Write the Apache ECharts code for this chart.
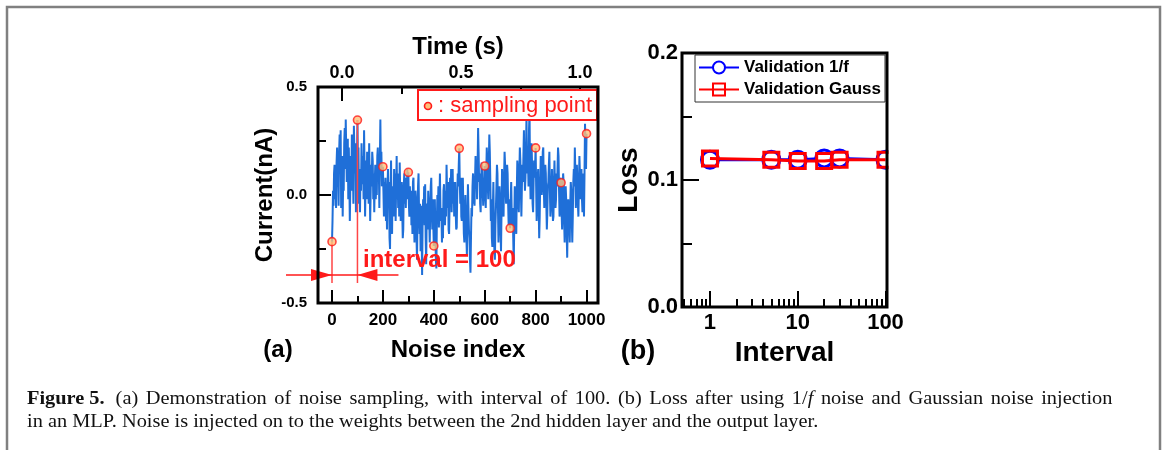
<!DOCTYPE html>
<html>
<head>
<meta charset="utf-8">
<script src="https://cdn.jsdelivr.net/npm/echarts@6/dist/echarts.min.js"></script>
<style>html,body{margin:0;padding:0;background:#fff;}#c{width:1165px;height:450px;}</style>
</head>
<body>
<div id="c"></div>
<script>
// ---------- Panel (a): noise trace, one value every 2 indices (0..1000) ----------
const noiseStep = 2;
const noiseValues = [
  // 0 - 98
  -0.216, -0.12, 0.02, -0.05, 0.1, 0.14, -0.02, 0.08, -0.06, 0.15, 0.22, 0.04, 0.12, -0.05, 0.2, 0.28, 0.1, 0.3, -0.06, 0.05,
  0.18, -0.1, 0.08, 0.02, 0.24, 0.31, 0.12, 0.35, 0.2, 0.06, 0.1, 0.26, -0.02, 0.22, 0.08, -0.12, 0.04, 0.18, 0.02, 0.28,
  0.06, 0.16, -0.04, 0.32, 0.2, 0.1, 0.24, -0.08, 0.06, 0.15,
  // 100 - 198
  0.347, 0.14, 0.22, -0.04, 0.08, -0.08, 0.12, 0.02, 0.24, 0.1, 0.05, 0.18, -0.02, 0.3, 0.12, -0.1, 0.06, 0.16, -0.02, 0.2,
  0.02, 0.12, -0.04, 0.24, 0.08, -0.12, 0.02, 0.14, 0.04, 0.2, 0.16, -0.02, 0.1, -0.08, 0.06, 0.14, -0.02, 0.08, 0.0, 0.18,
  0.22, 0.06, 0.12, -0.06, 0.16, 0.35, 0.12, 0.2, 0.04, 0.1,
  // 200 - 298
  0.131, 0.02, -0.1, 0.06, -0.04, 0.08, -0.12, 0.02, -0.16, 0.04, 0.12, -0.04, 0.06, -0.2, -0.25, 0.02, 0.16, -0.06, -0.18, 0.04,
  0.02, -0.1, 0.12, 0.0, 0.1, -0.12, 0.04, 0.18, -0.02, 0.08, -0.06, 0.1, -0.1, 0.15, 0.02, -0.12, 0.02, 0.06, -0.08, -0.2,
  -0.16, 0.04, 0.1, -0.04, 0.06, -0.06, 0.08, -0.02, 0.12, 0.0,
  // 300 - 398
  0.105, -0.04, -0.1, 0.04, -0.06, 0.02, -0.14, -0.04, -0.18, 0.06, 0.08, -0.1, -0.22, -0.06, 0.02, -0.02, -0.2, -0.3, -0.1, 0.04,
  0.1, -0.08, -0.18, -0.04, -0.26, -0.05, -0.16, -0.37, -0.12, -0.02, -0.1, 0.04, -0.14, 0.05, -0.2, -0.32, -0.1, -0.04, -0.16, 0.02,
  0.02, -0.12, -0.22, -0.06, 0.04, 0.08, -0.08, -0.16, -0.02, -0.14,
  // 400 - 498
  -0.236, -0.1, -0.02, -0.16, -0.3, -0.34, -0.12, 0.0, -0.08, 0.04, -0.15, -0.04, 0.1, -0.06, -0.12, -0.1, -0.22, -0.06, -0.2, 0.02,
  0.05, -0.08, -0.14, 0.02, -0.1, 0.14, 0.02, -0.06, 0.06, -0.16, -0.18, -0.04, 0.08, -0.02, 0.12, -0.08, 0.04, 0.12, -0.04, 0.06,
  -0.1, 0.02, 0.06, -0.08, -0.16, -0.15, 0.0, 0.1, 0.04, 0.14,
  // 500 - 598
  0.216, 0.06, -0.04, 0.08, -0.1, -0.12, 0.02, 0.08, -0.06, -0.18, -0.22, -0.08, 0.0, -0.12, -0.2, -0.28, -0.1, 0.05, -0.06, -0.16,
  -0.2, -0.3, -0.36, -0.2, -0.06, -0.1, 0.04, 0.1, -0.04, 0.02, -0.05, 0.08, 0.18, 0.04, 0.1, -0.02, 0.14, 0.31, 0.2, 0.06,
  0.1, -0.04, -0.08, 0.06, 0.15, 0.13, 0.02, -0.05, 0.08, 0.02,
  // 600 - 698
  0.134, -0.02, -0.06, 0.1, 0.22, 0.16, 0.04, -0.02, 0.14, 0.28, 0.2, 0.06, -0.12, -0.02, -0.2, -0.24, -0.06, 0.06, -0.12, -0.26,
  -0.3, -0.14, -0.06, 0.04, 0.14, 0.1, -0.06, -0.22, -0.1, 0.04, -0.02, -0.16, -0.26, -0.08, 0.12, 0.06, -0.06, -0.1, 0.08, 0.2,
  0.14, 0.02, -0.04, 0.08, 0.14, 0.1, -0.04, -0.14, -0.02, -0.12,
  // 700 - 798
  -0.154, -0.02, 0.06, -0.08, -0.14, -0.06, -0.2, -0.32, -0.14, 0.04, -0.02, -0.12, -0.18, 0.02, 0.16, 0.12, -0.04, -0.08, 0.1, 0.22,
  0.16, 0.02, -0.1, 0.04, 0.14, 0.06, 0.18, 0.3, 0.12, 0.02, 0.08, 0.2, 0.36, 0.18, 0.1, 0.16, 0.04, 0.3, 0.39, 0.12,
  -0.02, 0.1, 0.24, 0.14, -0.04, -0.08, 0.06, 0.16, 0.08, 0.14,
  // 800 - 898
  0.218, 0.04, -0.12, -0.04, 0.08, 0.12, -0.06, -0.2, -0.1, 0.06, 0.18, 0.1, 0.0, 0.06, 0.2, 0.22, 0.04, -0.06, 0.02, 0.14,
  0.1, -0.04, -0.16, -0.08, 0.04, 0.06, 0.14, 0.2, 0.02, -0.1, -0.06, 0.04, 0.12, 0.0, -0.12, -0.1, 0.06, 0.16, 0.04, -0.06,
  -0.02, 0.1, 0.04, 0.12, 0.22, 0.18, 0.02, -0.1, -0.04, 0.08,
  // 900 - 998
  0.057, -0.08, -0.16, 0.0, 0.1, 0.06, -0.12, -0.22, -0.08, 0.04, -0.02, -0.18, -0.29, -0.12, -0.02, -0.06, -0.14, -0.22, -0.04, 0.06,
  0.02, -0.12, -0.22, -0.1, 0.06, 0.12, 0.04, 0.22, 0.1, -0.06, 0.02, 0.14, 0.06, -0.04, -0.1, 0.04, 0.18, 0.1, -0.02, 0.06,
  0.12, -0.02, -0.08, 0.1, 0.02, -0.1, 0.1, 0.33, 0.22, 0.12,
  // 1000
  0.284
];
const sampleIndex = [0, 100, 200, 300, 400, 500, 600, 700, 800, 900, 1000];
const sampleValues = [-0.216, 0.347, 0.131, 0.105, -0.236, 0.216, 0.134, -0.154, 0.218, 0.057, 0.284];
const indexTicks = [0, 200, 400, 600, 800, 1000];
const indexMinorTicks = [100, 300, 500, 700, 900];
const timeTicks = [0, 0.5, 1.0];
const timeMinorTicks = [0.25, 0.75];

// ---------- Panel (b): loss vs interval ----------
const intervals = [1, 5, 10, 20, 30, 100];
const loss1f = [0.116, 0.116, 0.116, 0.117, 0.117, 0.116];
const lossGauss = [0.117, 0.116, 0.115, 0.115, 0.116, 0.116];
const intervalTicks = [1, 10, 100];
const intervalMinorTicks = [0.5, 0.6, 0.7, 0.8, 0.9, 2, 3, 4, 5, 6, 7, 8, 9, 20, 30, 40, 50, 60, 70, 80, 90];

const SANS = 'Liberation Sans, Arial, sans-serif';
const SERIF = 'Liberation Serif, Times New Roman, serif';

const noiseData = noiseValues.map((v, i) => [i * noiseStep, v]);
const sampleData = sampleIndex.map((x, i) => [x, sampleValues[i]]);
const markerBottom = -0.407;

const gA = {left: 318, top: 87, width: 280, height: 216};
const gB = {left: 682, top: 53, width: 205, height: 254};

function tickAxis(extra) {
  return Object.assign({
    type: 'value',
    axisLine: {show: false, onZero: false},
    splitLine: {show: false},
    axisTick: {show: true, inside: true, length: 13, lineStyle: {color: '#000', width: 2}},
    axisLabel: {show: false}
  }, extra);
}
const lbl = (size, margin, extra) => Object.assign({show: true, color: '#000', fontFamily: SANS, fontWeight: 'bold', fontSize: size, margin: margin}, extra || {});

const chart = echarts.init(document.getElementById('c'), null, {renderer: 'canvas'});
chart.setOption({
  animation: false,
  backgroundColor: '#fff',
  grid: [
    Object.assign({}, gA),
    Object.assign({}, gB)
  ],
  legend: {
    data: ['Validation 1/f', 'Validation Gauss'],
    orient: 'vertical',
    left: 695, top: 55,
    itemWidth: 40, itemHeight: 15, itemGap: 5,
    padding: [4, 4, 4, 3],
    borderColor: '#333', borderWidth: 1, backgroundColor: '#fff',
    textStyle: {fontFamily: SANS, fontWeight: 'bold', fontSize: 17, color: '#000'}
  },
  xAxis: [
    tickAxis({gridIndex: 0, position: 'bottom', min: -55, max: 1045,
      axisTick: {show: true, inside: true, length: 13, customValues: indexTicks, lineStyle: {color: '#000', width: 2}},
      axisLabel: lbl(17, 9, {customValues: indexTicks, formatter: v => String(v)}),
      name: 'Noise index', nameLocation: 'middle', nameGap: 35,
      nameTextStyle: {fontFamily: SANS, fontWeight: 'bold', fontSize: 24, color: '#000'}}),
    tickAxis({gridIndex: 0, position: 'bottom', min: -55, max: 1045,
      axisTick: {show: true, inside: true, length: 7, customValues: indexMinorTicks, lineStyle: {color: '#000', width: 2}}}),
    tickAxis({gridIndex: 0, position: 'top', min: -0.101, max: 1.076,
      axisTick: {show: true, inside: true, length: 14, customValues: timeTicks, lineStyle: {color: '#000', width: 2}},
      axisLabel: lbl(18, 5, {customValues: timeTicks, formatter: v => v.toFixed(1)}),
      name: 'Time (s)', nameLocation: 'middle', nameGap: 28,
      nameTextStyle: {fontFamily: SANS, fontWeight: 'bold', fontSize: 24, color: '#000'}}),
    tickAxis({gridIndex: 0, position: 'top', min: -0.101, max: 1.076,
      axisTick: {show: true, inside: true, length: 7, customValues: timeMinorTicks, lineStyle: {color: '#000', width: 2}}}),
    tickAxis({gridIndex: 1, type: 'log', logBase: 10, position: 'bottom', min: 0.48, max: 104,
      axisTick: {show: true, inside: true, length: 16, customValues: intervalTicks, lineStyle: {color: '#000', width: 2}},
      axisLabel: lbl(22, 5, {customValues: intervalTicks, formatter: v => String(Math.round(v))}),
      name: 'Interval', nameLocation: 'middle', nameGap: 31,
      nameTextStyle: {fontFamily: SANS, fontWeight: 'bold', fontSize: 28, color: '#000'}}),
    tickAxis({gridIndex: 1, type: 'log', logBase: 10, position: 'bottom', min: 0.48, max: 104,
      axisTick: {show: true, inside: true, length: 8, customValues: intervalMinorTicks, lineStyle: {color: '#000', width: 2}}})
  ],
  yAxis: [
    tickAxis({gridIndex: 0, min: -0.5, max: 0.5, interval: 0.5,
      minorTick: {show: true, splitNumber: 2, length: 8, lineStyle: {color: '#000', width: 2}},
      axisLabel: lbl(15, 11, {formatter: v => v.toFixed(1)}),
      name: 'Current(nA)', nameLocation: 'middle', nameGap: 35, nameRotate: 90,
      nameTextStyle: {fontFamily: SANS, fontWeight: 'bold', fontSize: 24, color: '#000'}}),
    tickAxis({gridIndex: 1, min: 0, max: 0.2, interval: 0.1,
      axisTick: {show: true, inside: true, length: 17, lineStyle: {color: '#000', width: 2}},
      minorTick: {show: true, splitNumber: 2, length: 10, lineStyle: {color: '#000', width: 2}},
      axisLabel: lbl(22, 4, {formatter: v => v.toFixed(1)}),
      name: 'Loss', nameLocation: 'middle', nameGap: 36, nameRotate: 90,
      nameTextStyle: {fontFamily: SANS, fontWeight: 'bold', fontSize: 28, color: '#000'}})
  ],
  series: [
    {type: 'line', name: 'noise', xAxisIndex: 0, yAxisIndex: 0, data: noiseData, showSymbol: false,
      lineStyle: {color: '#1f6fd8', width: 2}, z: 2},
    {type: 'line', name: 'm0', xAxisIndex: 0, yAxisIndex: 0, showSymbol: false,
      data: [[sampleIndex[0], sampleValues[0]], [sampleIndex[0], markerBottom]],
      lineStyle: {color: '#ff4545', width: 1.5}, z: 3},
    {type: 'line', name: 'm1', xAxisIndex: 0, yAxisIndex: 0, showSymbol: false,
      data: [[sampleIndex[1], sampleValues[1]], [sampleIndex[1], markerBottom]],
      lineStyle: {color: '#ff4545', width: 1.5}, z: 3},
    {type: 'scatter', name: 'sampling point', xAxisIndex: 0, yAxisIndex: 0, data: sampleData,
      symbol: 'circle', symbolSize: 8,
      itemStyle: {color: '#ffc07a', borderColor: '#ff1a1a', borderWidth: 1.6}, z: 4},
    {type: 'line', name: 'Validation 1/f', xAxisIndex: 4, yAxisIndex: 1,
      data: intervals.map((x, i) => [x, loss1f[i]]),
      symbol: 'circle', symbolSize: 17, showSymbol: true,
      lineStyle: {color: '#0000ff', width: 3},
      itemStyle: {color: '#ffffff', borderColor: '#0000ff', borderWidth: 3}, z: 3},
    {type: 'line', name: 'Validation Gauss', xAxisIndex: 4, yAxisIndex: 1,
      data: intervals.map((x, i) => [x, lossGauss[i]]),
      symbol: 'rect', symbolSize: 15, showSymbol: true,
      lineStyle: {color: '#ff0000', width: 3},
      itemStyle: {color: 'rgba(255,255,255,0)', borderColor: '#ff0000', borderWidth: 3}, z: 4}
  ]
});

// annotation graphics (frame, boxes, legend of panel a, arrow, caption)
const p0 = chart.convertToPixel({xAxisIndex: 0, yAxisIndex: 0}, [sampleIndex[0], -0.37]);
const p1 = chart.convertToPixel({xAxisIndex: 0, yAxisIndex: 0}, [sampleIndex[1], -0.37]);
const ay = p0[1];
const red = '#ff1a1a';

// caption: first line justified (wider word spaces), last line natural
const capLine1 = ['{b|Figure 5.}', '(a)', 'Demonstration', 'of', 'noise', 'sampling,', 'with', 'interval', 'of', '100.', '(b)', 'Loss', 'after', 'using', '1/{i|f}', 'noise', 'and', 'Gaussian', 'noise', 'injection'];
const capLine2 = 'in an MLP. Noise is injected on to the weights between the 2nd hidden layer and the output layer.';
const capText = capLine1[0] + '{w2| }' + capLine1.slice(1).join('{w| }') + '\n' + capLine2;

chart.setOption({
  graphic: [
    {type: 'rect', id: 'frame', shape: {x: 7, y: 7, width: 1153, height: 470}, style: {fill: null, stroke: '#808080', lineWidth: 2.5}, silent: true, z: 0},
    {type: 'rect', id: 'boxA', shape: {x: gA.left, y: gA.top, width: gA.width, height: gA.height}, style: {fill: null, stroke: '#000', lineWidth: 3}, z: 50},
    {type: 'rect', id: 'clipB', shape: {x: gB.left + gB.width + 1.5, y: gB.top + 60, width: 14, height: 140}, style: {fill: '#fff'}, z: 49},
    {type: 'rect', id: 'boxB', shape: {x: gB.left, y: gB.top, width: gB.width, height: gB.height}, style: {fill: null, stroke: '#000', lineWidth: 3}, z: 50},
    {type: 'rect', id: 'legA', shape: {x: 418, y: 90, width: 179, height: 30}, style: {fill: '#fff', stroke: red, lineWidth: 2}, z: 40},
    {type: 'circle', id: 'legAdot', shape: {cx: 428, cy: 106, r: 3.5}, style: {fill: '#ffc07a', stroke: red, lineWidth: 1.6}, z: 41},
    {type: 'text', id: 'legAtxt', x: 438, y: 106, style: {text: ': sampling point', fill: red, font: '22px ' + SANS, verticalAlign: 'middle'}, z: 41},
    {type: 'text', id: 'intv', x: 363, y: 260, style: {text: 'interval = 100', fill: red, font: 'bold 24px ' + SANS, verticalAlign: 'middle'}, z: 41},
    {type: 'line', id: 'arrowLine', shape: {x1: p0[0] - 46, y1: ay, x2: p1[0] + 41, y2: ay}, style: {stroke: red, lineWidth: 1.5}, z: 42},
    {type: 'polygon', id: 'arrL', shape: {points: [[p0[0], ay], [p0[0] - 21, ay - 6], [p0[0] - 21, ay + 6]]}, style: {fill: red}, z: 42},
    {type: 'polygon', id: 'arrR', shape: {points: [[p1[0], ay], [p1[0] + 20, ay - 6], [p1[0] + 20, ay + 6]]}, style: {fill: red}, z: 42},
    {type: 'text', id: 'la', x: 278, y: 350, style: {text: '(a)', fill: '#000', font: 'bold 24px ' + SANS, align: 'center', verticalAlign: 'middle'}, z: 41},
    {type: 'text', id: 'lb', x: 638, y: 352, style: {text: '(b)', fill: '#000', font: 'bold 27px ' + SANS, align: 'center', verticalAlign: 'middle'}, z: 41},
    {type: 'text', id: 'cap', x: 27, y: 388, scaleX: 1.1, style: {
      text: capText,
      fill: '#111', font: '18.5px ' + SERIF, lineHeight: 23, verticalAlign: 'top',
      rich: {
        b: {fontWeight: 'bold', fontFamily: SERIF, fontSize: 18.5, fill: '#111'},
        i: {fontStyle: 'italic', fontFamily: SERIF, fontSize: 18.5, fill: '#111'},
        w: {width: 6.9, fontFamily: SERIF, fontSize: 18.5},
        w2: {width: 10, fontFamily: SERIF, fontSize: 18.5}
      }
    }, z: 41}
  ]
});
</script>
</body>
</html>
